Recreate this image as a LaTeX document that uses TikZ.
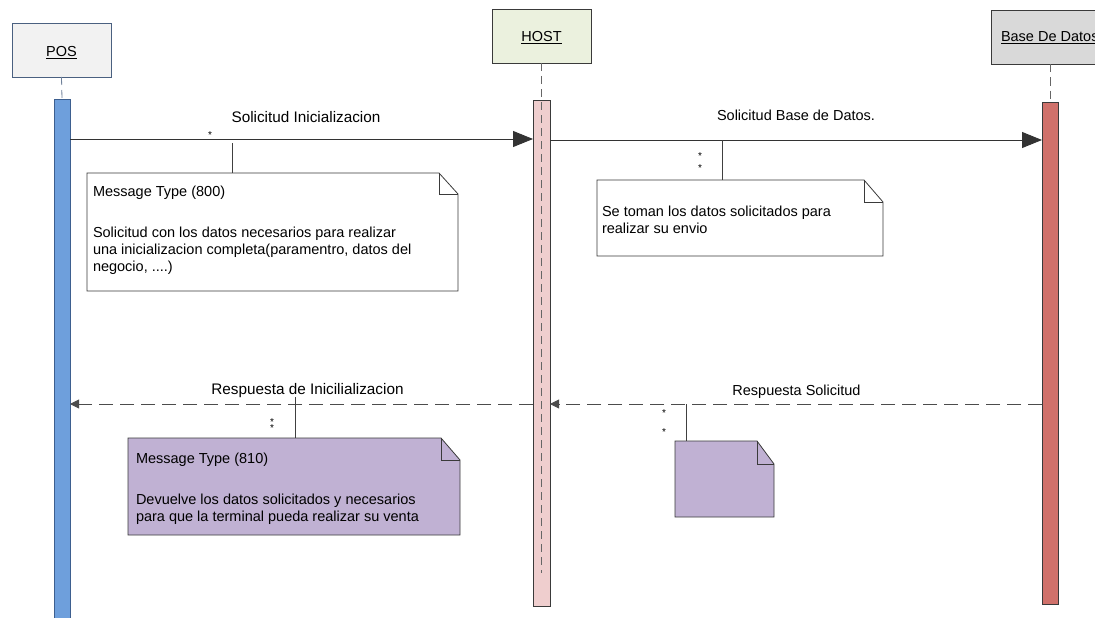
\documentclass[tikz,border=0pt]{standalone}
\usepackage{fontspec}
\setmainfont{Liberation Sans}
\usetikzlibrary{arrows.meta}
\definecolor{posfill}{HTML}{F2F2F2}
\definecolor{posedge}{HTML}{4A6080}
\definecolor{hostfill}{HTML}{EBF1DE}
\definecolor{dbfill}{HTML}{D9D9D9}
\definecolor{posbarfill}{HTML}{6E9FDC}
\definecolor{posbaredge}{HTML}{3D5F8F}
\definecolor{hostbarfill}{HTML}{EFCECE}
\definecolor{dbbarfill}{HTML}{D0716B}
\definecolor{notepurple}{HTML}{C0B1D3}
\definecolor{edgegray}{HTML}{3A3A3A}
\begin{document}
\begin{tikzpicture}[x=1pt,y=-1pt,
  every node/.style={font=\fontsize{14.5}{17}\selectfont, inner sep=0pt, outer sep=0pt},
  headbox/.style={draw=edgegray, line width=0.8pt, minimum width=99pt, minimum height=54pt},
  bar/.style={draw=edgegray, line width=0.8pt, minimum width=16pt},
  lifeline/.style={draw=gray!80!black, line width=0.8pt, dash pattern=on 8pt off 5pt},
  call/.style={draw=black!80, line width=0.9pt, -{Triangle[length=20pt,width=16pt]}},
  reply/.style={draw=black!70, line width=0.9pt, dash pattern=on 14pt off 7pt, -{Triangle[length=9pt,width=9pt]}},
  noteline/.style={draw=edgegray, line width=0.8pt},
  link/.style={draw=black!75, line width=0.8pt},
  lbl/.style={anchor=base},
  biglbl/.style={anchor=base, font=\fontsize{15.3}{17}\selectfont},
  txt/.style={anchor=base west},
  star/.style={anchor=base, font=\fontsize{10}{10}\selectfont}
]
\clip (0,0) rectangle (1095,618);

% lifeline heads
\node[headbox, fill=posfill, draw=posedge] (pos) at (61.5,50) {};
\node[lbl] (poslabel) at (61.5,57) {\underline{POS}};
\node[headbox, fill=hostfill] (host) at (541.5,36) {};
\node[lbl] (hostlabel) at (541.5,42) {\underline{HOST}};
\node[headbox, fill=dbfill, minimum width=130pt, anchor=west] (db) at (991,37.5) {};
\node[txt] (dblabel) at (1001,42) {\underline{Base De Datos}};

% activation bars
\node[bar, fill=posbarfill, draw=posbaredge, minimum height=522pt] (posbar) at (62,360) {};
\node[bar, fill=hostbarfill, minimum width=17pt, minimum height=506pt] (hostbar) at (541.5,353) {};
\node[bar, fill=dbbarfill, minimum height=502pt] (dbbar) at (1050,353) {};

% dashed lifelines
\coordinate (hostend) at (541.5,573);
\draw[lifeline, draw=posedge!80] (pos.south) -- (posbar.north);
\draw[lifeline] (host.south) -- (hostend);
\draw[lifeline] (db.south -| dbbar.north) -- (dbbar.north);

% messages
\coordinate (m1) at (0,139);
\coordinate (m2) at (0,140);
\coordinate (m3) at (0,404);
\draw[call] (posbar.east |- m1) -- (hostbar.west |- m1);
\draw[call] (hostbar.east |- m2) -- (dbbar.west |- m2);
\draw[reply] (dbbar.west |- m3) -- (hostbar.east |- m3);
\draw[reply] (hostbar.west |- m3) -- (posbar.east |- m3);

\node[biglbl] (l1) at (306,122) {Solicitud Inicializacion};
\node[lbl] (l2) at (796,121) {Solicitud Base de Datos.};
\node[biglbl] (l3) at (307.5,394) {Respuesta de Inicilializacion};
\node[lbl] (l4) at (796.5,395) {Respuesta Solicitud};

\node[star] (s1) at (210,138) {*};
\node[star] (s2) at (700,159) {*};
\node[star] (s3) at (700,171) {*};
\node[star] (s4) at (272,425) {*};
\node[star] (s5) at (272,431) {*};
\node[star] (s6) at (664,416) {*};
\node[star] (s7) at (664,435) {*};

% notes
\node[minimum width=371pt, minimum height=118pt] (n1) at (272.5,232) {};
\node[minimum width=286pt, minimum height=76pt] (n2) at (740,218) {};
\node[minimum width=332pt, minimum height=97pt] (n3) at (294,486.5) {};
\node[minimum width=99pt, minimum height=76pt] (n4) at (724.5,479) {};

\foreach \n/\f/\fx/\fy in {n1/white/19/21, n2/white/19/22, n3/notepurple/19/22, n4/notepurple/17/23}{
  \draw[noteline, fill=\f] (\n.north west) -- ([xshift=-\fx pt]\n.north east)
     -- ([yshift=-\fy pt]\n.north east) -- (\n.south east) -- (\n.south west) -- cycle;
  \draw[noteline] ([xshift=-\fx pt]\n.north east) |- ([yshift=-\fy pt]\n.north east);
}

% note connectors
\coordinate (c1) at (232,143);
\coordinate (c2) at (722,140);
\coordinate (c3) at (295,397);
\coordinate (c4) at (686,404);
\draw[link] (c1) -- (c1 |- n1.north);
\draw[link] (c2) -- (c2 |- n2.north);
\draw[link] (c3) -- (c3 |- n3.north);
\draw[link] (c4) -- (c4 |- n4.north);

% note texts
\node[txt] (t1a) at (93,196) {Message Type (800)};
\node[txt] (t1b) at (93,237) {Solicitud con los datos necesarios para realizar};
\node[txt] (t1c) at (93,254) {una inicializacion completa(paramentro, datos del};
\node[txt] (t1d) at (93,271) {negocio, ....)};
\node[txt] (t2a) at (602,216) {Se toman los datos solicitados para};
\node[txt] (t2b) at (602,233) {realizar su envio};
\node[txt] (t3a) at (136,463) {Message Type (810)};
\node[txt] (t3b) at (136,504) {Devuelve los datos solicitados y necesarios};
\node[txt] (t3c) at (136,521) {para que la terminal pueda realizar su venta};
\end{tikzpicture}
\end{document}
